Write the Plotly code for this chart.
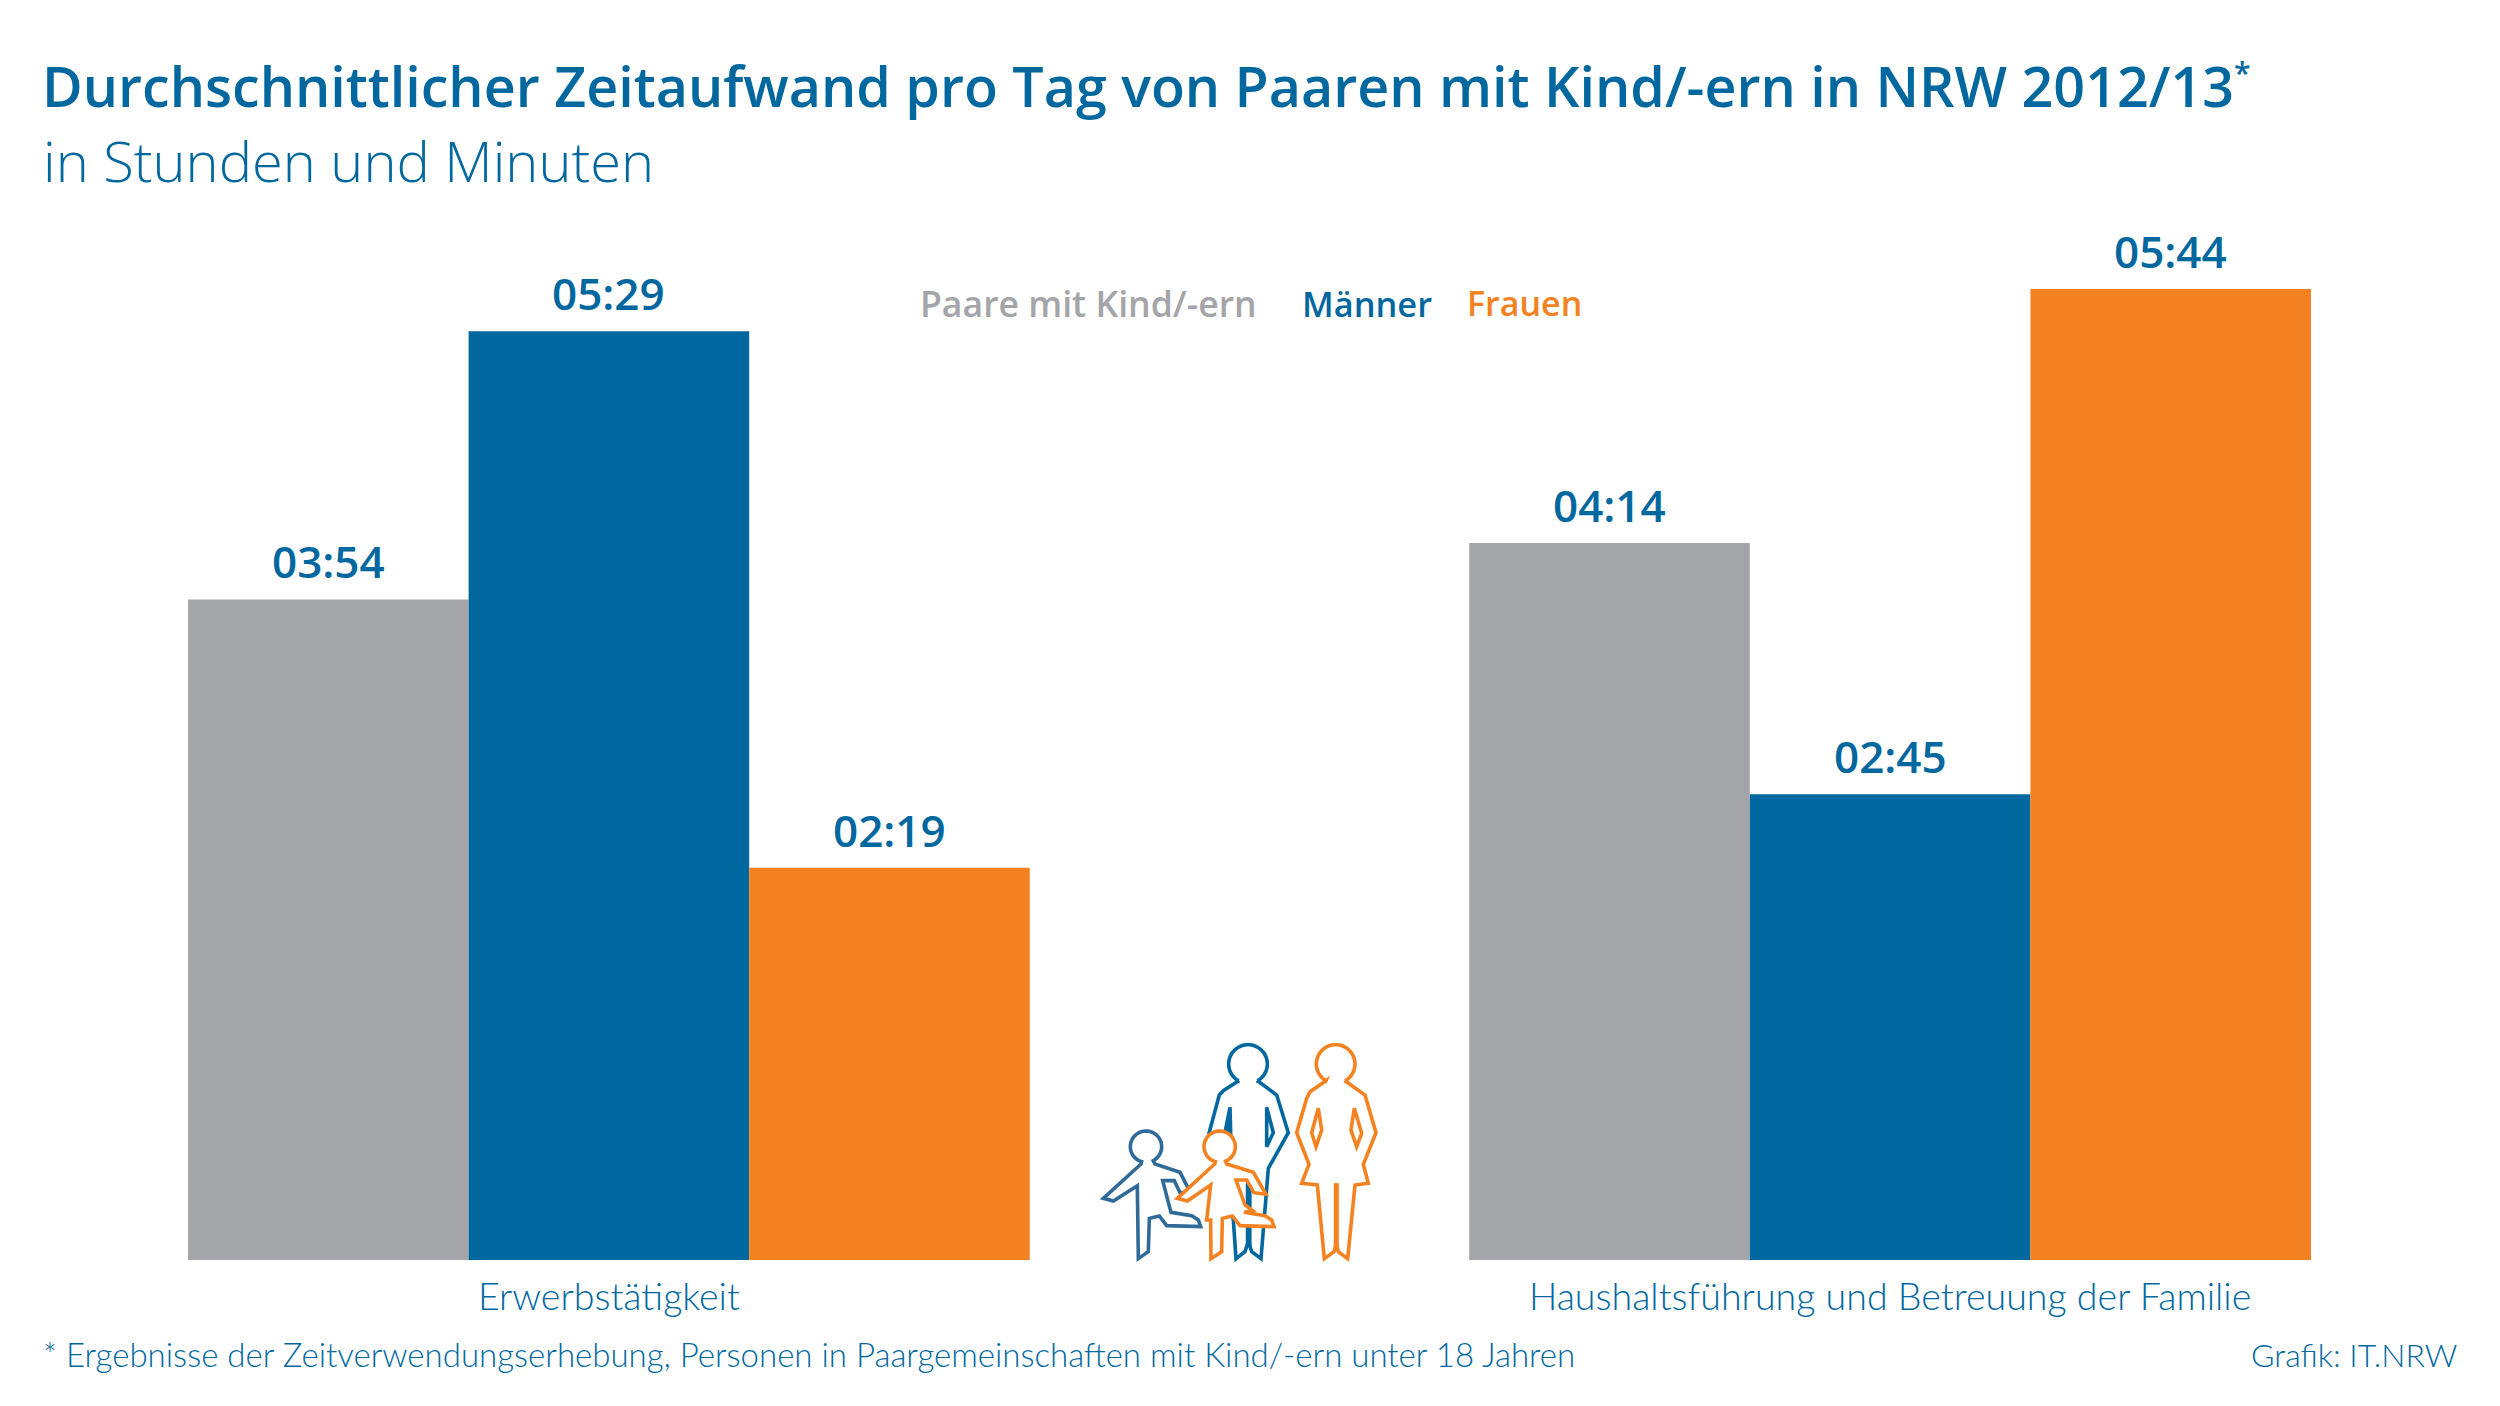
import numpy as np
import plotly.graph_objects as go

W, H = 2500, 1406
categories = ["Erwerbstätigkeit", "Haushaltsführung und Betreuung der Familie"]
series_names = ["Paare mit Kind/-ern", "Männer", "Frauen"]
paare = [234, 254]
maenner = [329, 165]
frauen = [139, 344]
GREY, BLUE, ORANGE, BLUE2 = "#A4A5A8", "#00689F", "#F58220", "#2F6A99"
colors = [GREY, BLUE, ORANGE]
values = [paare, maenner, frauen]
TITLE_FONT = "Open Sans"
BODY_FONT = "Lato"


def fmt(m):
    return f"{m // 60:02d}:{m % 60:02d}"


def px(x):
    return x / W


def py(y):
    return 1 - y / H


fig = go.Figure()
for name, vals, col in zip(series_names, values, colors):
    fig.add_trace(go.Bar(name=name, x=categories, y=vals, marker=dict(color=col, line_width=0)))

annotations = []
bar_w = 0.657 / 3
for s, (vals, col) in enumerate(zip(values, colors)):
    for c, v in enumerate(vals):
        annotations.append(dict(x=c + (s - 1) * bar_w, y=v, xref="x", yref="y", text=fmt(v), showarrow=False,
                                yanchor="bottom", yshift=6,
                                font=dict(family=TITLE_FONT, size=44, color=BLUE, weight=600)))


def note(x, y, text, size, color=BLUE, anchor="left", family=BODY_FONT, weight=400):
    annotations.append(dict(x=px(x), y=py(y), xref="paper", yref="paper", text=text, showarrow=False,
                            xanchor=anchor, yanchor="middle", xshift=0,
                            font=dict(family=family, size=size, color=color, weight=weight)))


note(41, 160, "in Stunden und Minuten", 56, family=TITLE_FONT, weight=300)
note(918, 303, series_names[0], 35.6, GREY, family=TITLE_FONT, weight=600)
note(1300, 303, series_names[1], 34.4, BLUE, family=TITLE_FONT, weight=600)
note(1465, 303, series_names[2], 34, ORANGE, family=TITLE_FONT, weight=600)
note(41, 1354, "* Ergebnisse der Zeitverwendungserhebung, Personen in Paargemeinschaften mit Kind/-ern unter 18 Jahren", 33, weight=300)
note(2459, 1354, "Grafik: IT.NRW", 32, anchor="right", weight=300)


# Family pictogram, traced in the reference (coordinates relative to the icon box)
def to_path(points, close=True):
    s = "M " + " L ".join(f"{px(1060 + x / 3):.5f},{py(1020 + y / 3):.5f}" for x, y in points)
    return s + (" Z" if close else "")


def with_head(body, cx, cy, r):
    x0, y0 = body[-1]
    x1, y1 = body[0]
    a0 = np.arctan2(y0 - cy, x0 - cx)
    a1 = np.arctan2(y1 - cy, x1 - cx)
    if a1 > a0:
        a1 -= 2 * np.pi
    arc = [(cx + r * np.cos(a), cy + r * np.sin(a)) for a in np.linspace(a0, a1, 40)]
    return body + arc


man = [(536, 182), (490, 212), (478, 225), (447, 340), (470, 400), (500, 470), (520, 600), (528, 716), (555, 695),
       (565, 665), (575, 695), (603, 716), (625, 445), (685, 338), (650, 225), (592, 182)]
man_a = [(620, 262), (640, 338), (620, 380)]
man_b = [(510, 262), (495, 338), (512, 342)]
man_c = [(558, 490), (574, 490), (574, 680), (558, 680)]
woman = [(798, 182), (750, 215), (740, 235), (710, 338), (747, 433), (725, 490), (772, 495), (793, 716), (822, 695),
         (829, 670), (835, 695), (863, 716), (885, 495), (925, 490), (910, 433), (948, 338), (915, 225), (855, 182)]
woman_a = [(775, 265), (755, 338), (768, 380), (785, 330)]
woman_b = [(883, 265), (873, 330), (890, 380), (905, 340)]
woman_c = [(822, 490), (836, 490), (836, 680), (822, 680)]
boy = [(243, 432), (130, 535), (160, 543), (232, 497), (235, 716), (265, 695), (268, 595), (298, 588), (320, 617),
       (422, 620), (415, 600), (395, 587), (333, 577), (308, 482), (343, 482), (360, 518), (390, 515), (360, 457),
       (285, 432)]
girl = [(464, 432), (352, 535), (382, 543), (452, 495), (440, 600), (452, 600), (453, 716), (485, 695), (487, 595),
        (517, 588), (540, 617), (642, 620), (635, 600), (615, 587), (552, 577), (578, 572), (555, 555), (528, 480),
        (560, 480), (582, 518), (618, 523), (580, 457), (500, 432)]

shapes = []


def icon(points, color, fill="rgba(0,0,0,0)", width=3.6):
    shapes.append(dict(type="path", xref="paper", yref="paper", path=to_path(points), fillcolor=fill,
                       line=dict(color=color, width=width), layer="above"))


icon(with_head(man, 564, 132, 58), BLUE)
icon(man_a, BLUE)
icon(man_b, BLUE, BLUE)
icon(man_c, BLUE, BLUE, 0.5)
icon(with_head(woman, 827, 132, 58), ORANGE)
icon(woman_a, ORANGE)
icon(woman_b, ORANGE)
icon(woman_c, ORANGE, ORANGE, 0.5)
icon(with_head(boy, 258, 380, 47), BLUE2)
icon(with_head(girl, 479, 380, 47), ORANGE, "white")

fig.update_layout(
    width=W, height=H, autosize=False, margin=dict(l=0, r=0, t=0, b=0),
    paper_bgcolor="white", plot_bgcolor="white", showlegend=False,
    barmode="group", bargap=0.343, bargroupgap=0,
    title=dict(text='Durchschnittlicher Zeitaufwand pro Tag von Paaren mit Kind/-ern in NRW 2012/13<sup><span style="font-size:30px">*</span></sup>',
               x=42 / W, xanchor="left", xref="paper", y=py(88), yanchor="middle",
               font=dict(family=TITLE_FONT, size=55.6, color=BLUE, weight=600)),
    xaxis=dict(domain=[188 / W, 2311 / W], range=[-0.3285, 1.3285], type="category", showgrid=False, zeroline=False,
               showline=False, ticks="", tickfont=dict(family=BODY_FONT, size=37.6, color=BLUE, weight=300),
               ticklabelstandoff=11),
    yaxis=dict(domain=[py(1260), py(200)], range=[0, 1060 / (971 / 344)], visible=False, fixedrange=True),
    annotations=annotations, shapes=shapes,
)
fig.write_html("out.html", config=dict(displayModeBar=False), post_script="document.body.style.margin='0';")
